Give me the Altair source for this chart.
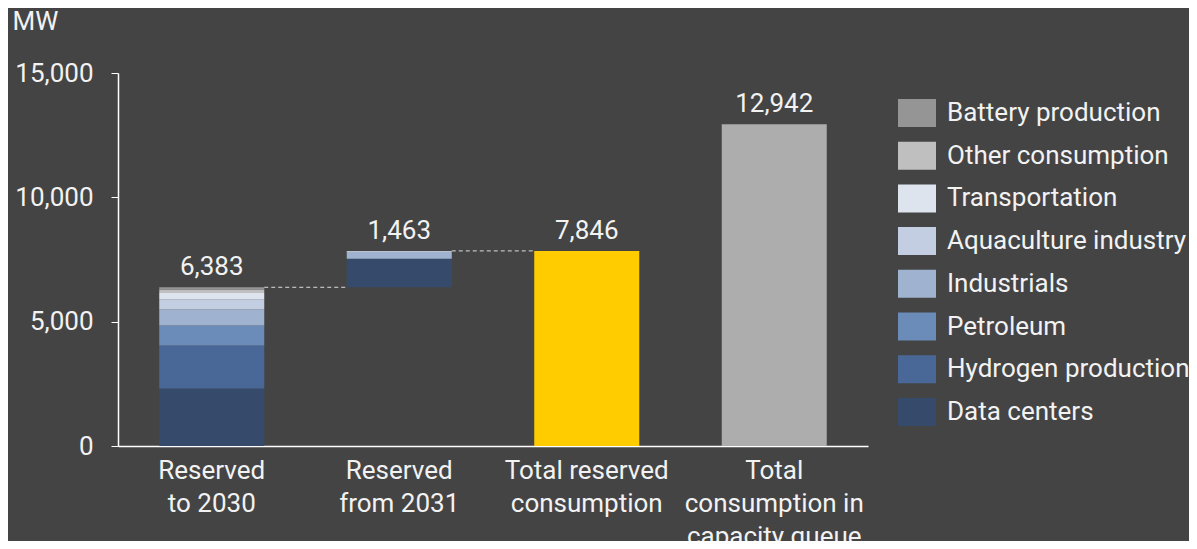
import altair as alt
import pandas as pd

categories = ["Reserved to 2030", "Reserved from 2031",
              "Total reserved consumption", "Total consumption in capacity queue"]
cat_lines = [["Reserved", "to 2030"], ["Reserved", "from 2031"],
             ["Total reserved", "consumption"], ["Total", "consumption in", "capacity queue"]]
totals = [6383, 1463, 7846, 12942]

segments = ["Data centers", "Hydrogen production", "Petroleum", "Industrials",
            "Aquaculture industry", "Transportation", "Other consumption", "Battery production"]
seg_colors = ["#364b6b", "#4a6897", "#6b8bb8", "#9fb2d0",
              "#c3cee2", "#dde4ee", "#bfbfbf", "#959595"]
reserved_to_2030 = [2315, 1725, 808, 646, 404, 255, 137, 93]
reserved_from_2031 = [1145, 0, 0, 280, 0, 38, 0, 0]

total_colors = ["#ffcc00", "#adadad"]

# stacked segments (waterfall: second bar starts at the first total)
rows = []
for cat, vals, base in [(categories[0], reserved_to_2030, 0),
                        (categories[1], reserved_from_2031, totals[0])]:
    cum = base
    for i, (s, v) in enumerate(zip(segments, vals)):
        if v > 0:
            rows.append({"cat": cat, "seg": s, "start": cum, "end": cum + v, "ord": i})
        cum += v
seg_df = pd.DataFrame(rows)

tot_df = pd.DataFrame({"cat": categories[2:], "start": [0, 0], "end": totals[2:],
                       "col": total_colors})

lab_df = pd.DataFrame({"cat": categories,
                       "start": [totals[0], totals[0] + totals[1], totals[2], totals[3]],
                       "label": [f"{t:,}" for t in totals]})

conn_df = pd.DataFrame({"cat": categories[:2], "c2": categories[1:3],
                        "start": [totals[0], totals[0] + totals[1]]})

label_expr = " : ".join(
    f"datum.value == '{c}' ? {l!r}" for c, l in zip(categories, cat_lines)
) + " : datum.value"

FONT = "Roboto"
TXT = "#f2f2f2"
FS = 26

xscale = alt.Scale(domain=categories, paddingInner=0.44, paddingOuter=0.22)
xaxis = alt.Axis(title=None, labelAngle=0, labelExpr=label_expr,
                 labelFontSize=FS, labelColor=TXT, labelFont=FONT,
                 labelLineHeight=33, labelPadding=11, ticks=False,
                 domainColor="#ffffff", domainWidth=1.5, labelBaseline="top")
yscale = alt.Scale(domain=[0, 15000], nice=False)
yaxis = alt.Axis(title="MW", titleAngle=0, titleAlign="left", titleBaseline="middle",
                 titleX=-106, titleY=-52, titleFontSize=FS, titleFontWeight="normal",
                 titleColor=TXT, titleFont=FONT,
                 values=[0, 5000, 10000, 15000],
                 labelExpr="format(datum.value, ',')", labelFontSize=FS,
                 labelColor=TXT, labelFont=FONT, labelPadding=18, tickSize=7,
                 tickColor="#ffffff", domainColor="#ffffff", domainWidth=1.5, grid=False)

X = alt.X("cat:N", scale=xscale, axis=xaxis)
Y = alt.Y("start:Q", scale=yscale, axis=yaxis)

legend_path = "M-1,-0.737H1V0.737H-1Z"

stack = alt.Chart(seg_df).mark_bar().encode(
    x=X,
    y=Y,
    y2="end:Q",
    color=alt.Color("seg:N", scale=alt.Scale(domain=segments[::-1], range=seg_colors[::-1]),
                    legend=alt.Legend(title=None, orient="none", legendX=780, legendY=21,
                                      symbolType=legend_path, symbolSize=1444,
                                      symbolStrokeWidth=0, labelFontSize=FS,
                                      labelColor=TXT, labelFont=FONT, labelOffset=11,
                                      rowPadding=8.7, labelLimit=400)),
    order=alt.Order("ord:Q"),
)

tots = alt.Chart(tot_df).mark_bar().encode(
    x=X,
    y=Y,
    y2="end:Q",
    color=alt.Color("col:N", scale=None),
)

labels = alt.Chart(lab_df).mark_text(baseline="bottom", dy=-7, fontSize=FS,
                                     color=TXT, font=FONT).encode(
    x=X,
    y=Y,
    text="label:N",
)

conns = alt.Chart(conn_df).mark_rule(strokeDash=[4, 3], color="#dddddd",
                                     strokeWidth=1).encode(
    x=alt.X("cat:N", scale=xscale, axis=xaxis, bandPosition=1),
    x2=alt.X2("c2:N", bandPosition=0),
    y=Y,
)

chart = alt.layer(stack, tots, conns, labels).resolve_scale(color="independent").properties(
    width=750, height=373,
    padding={"left": 110, "top": 65, "right": 321, "bottom": 95},
    autosize=alt.AutoSizeParams(type="none"),
    background="#444444",
).configure_view(stroke=None)

chart.save("out.html", embed_options={"renderer": "svg", "actions": False})
